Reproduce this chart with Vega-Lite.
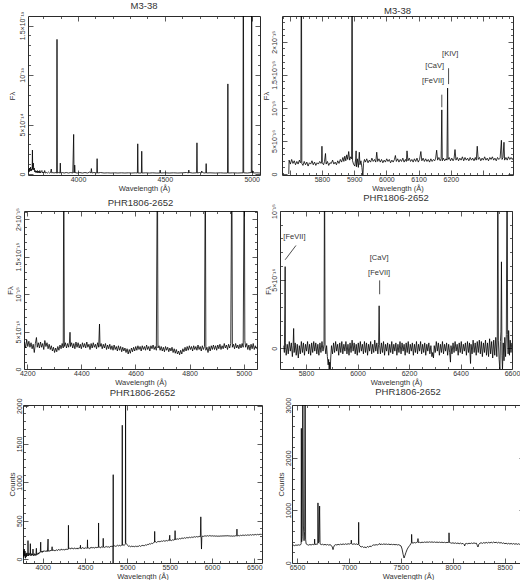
{
"$schema": "https://vega.github.io/schema/vega-lite/v6.json",
"padding": {"left": 0, "top": 0, "right": 0, "bottom": 0},
"config": {
  "font": "Liberation Sans",
  "view": {"stroke": "#2a2a2a", "strokeWidth": 1},
  "axis": {"domain": false, "grid": false, "tickSize": 0, "labelFontSize": 7, "titleFontSize": 7.5, "labelColor": "#333", "titleColor": "#333", "tickColor": "#333", "tickWidth": 0.8, "titleFontWeight": "normal", "labelFont": "Liberation Sans", "titleFont": "Liberation Sans", "labelOverlap": false, "labelFlush": false},
  "title": {"fontSize": 9.5, "fontWeight": "normal", "color": "#333", "offset": 0.5, "font": "Liberation Sans"},
  "text": {"font": "Liberation Sans", "fontSize": 7.5, "color": "#333"},
  "line": {"color": "#000", "strokeWidth": 0.8, "clip": true}
},
"datasets": {
"p1": [{"wl":3715,"flux":0.5},{"wl":3718,"flux":0.2},{"wl":3721,"flux":0.6},{"wl":3724,"flux":0.3},{"wl":3727,"flux":0.7},{"wl":3730,"flux":0.3},{"wl":3733,"flux":0.5},{"wl":3736,"flux":0.4},{"wl":3737.5,"flux":2.42},{"wl":3739,"flux":0.5},{"wl":3741,"flux":0.9},{"wl":3743,"flux":1.1},{"wl":3745,"flux":0.4},{"wl":3748,"flux":0.6},{"wl":3751,"flux":0.2},{"wl":3754,"flux":0.35},{"wl":3757,"flux":0.15},{"wl":3760,"flux":0.3},{"wl":3763,"flux":0.15},{"wl":3766,"flux":0.35},{"wl":3769,"flux":0.1},{"wl":3773,"flux":0.3},{"wl":3777,"flux":0.1},{"wl":3780,"flux":0.35},{"wl":3784,"flux":0.1},{"wl":3788,"flux":0.25},{"wl":3792,"flux":0.35},{"wl":3795,"flux":0.1},{"wl":3800,"flux":0.2},{"wl":3804,"flux":0.1},{"wl":3808,"flux":0.35},{"wl":3812,"flux":0.1},{"wl":3818,"flux":0.15},{"wl":3824,"flux":0.1},{"wl":3830,"flux":0.2},{"wl":3836,"flux":0.1},{"wl":3842,"flux":0.15},{"wl":3846,"flux":0.5},{"wl":3849,"flux":0.1},{"wl":3855,"flux":0.15},{"wl":3862,"flux":0.1},{"wl":3868,"flux":0.15},{"wl":3877,"flux":0.1},{"wl":3879,"flux":13.6},{"wl":3881,"flux":0.1},{"wl":3889,"flux":0.15},{"wl":3896,"flux":0.1},{"wl":3898,"flux":1.1},{"wl":3900,"flux":0.1},{"wl":3910,"flux":0.15},{"wl":3920,"flux":0.1},{"wl":3932,"flux":0.15},{"wl":3945,"flux":0.1},{"wl":3958,"flux":0.15},{"wl":3970,"flux":0.1},{"wl":3975,"flux":4.0},{"wl":3977,"flux":0.1},{"wl":3980,"flux":0.3},{"wl":3981,"flux":0.9},{"wl":3983,"flux":0.15},{"wl":3995,"flux":0.1},{"wl":4010,"flux":0.15},{"wl":4025,"flux":0.1},{"wl":4040,"flux":0.15},{"wl":4055,"flux":0.1},{"wl":4068,"flux":0.2},{"wl":4074,"flux":0.1},{"wl":4077,"flux":0.55},{"wl":4080,"flux":0.1},{"wl":4092,"flux":0.15},{"wl":4108,"flux":0.1},{"wl":4110,"flux":1.55},{"wl":4112,"flux":0.1},{"wl":4130,"flux":0.15},{"wl":4150,"flux":0.1},{"wl":4170,"flux":0.12},{"wl":4190,"flux":0.1},{"wl":4210,"flux":0.12},{"wl":4230,"flux":0.1},{"wl":4250,"flux":0.12},{"wl":4270,"flux":0.1},{"wl":4290,"flux":0.12},{"wl":4310,"flux":0.1},{"wl":4330,"flux":0.12},{"wl":4342,"flux":0.1},{"wl":4344,"flux":3.05},{"wl":4346,"flux":0.1},{"wl":4365,"flux":0.1},{"wl":4367,"flux":2.3},{"wl":4369,"flux":0.1},{"wl":4390,"flux":0.12},{"wl":4410,"flux":0.1},{"wl":4430,"flux":0.12},{"wl":4450,"flux":0.1},{"wl":4471,"flux":0.1},{"wl":4473,"flux":0.4},{"wl":4475,"flux":0.1},{"wl":4500,"flux":0.12},{"wl":4525,"flux":0.1},{"wl":4550,"flux":0.12},{"wl":4575,"flux":0.1},{"wl":4600,"flux":0.12},{"wl":4625,"flux":0.15},{"wl":4636,"flux":0.1},{"wl":4638,"flux":0.4},{"wl":4640,"flux":0.15},{"wl":4660,"flux":0.1},{"wl":4683,"flux":0.12},{"wl":4685,"flux":3.15},{"wl":4687,"flux":0.1},{"wl":4700,"flux":0.15},{"wl":4710,"flux":0.1},{"wl":4712,"flux":0.3},{"wl":4714,"flux":0.2},{"wl":4725,"flux":0.1},{"wl":4736,"flux":0.12},{"wl":4738,"flux":1.05},{"wl":4740,"flux":0.1},{"wl":4760,"flux":0.12},{"wl":4790,"flux":0.1},{"wl":4820,"flux":0.12},{"wl":4840,"flux":0.1},{"wl":4861,"flux":0.1},{"wl":4863,"flux":9.1},{"wl":4865,"flux":0.1},{"wl":4890,"flux":0.12},{"wl":4920,"flux":0.1},{"wl":4950,"flux":0.12},{"wl":4952,"flux":30},{"wl":4954,"flux":0.12},{"wl":4975,"flux":0.1},{"wl":4998,"flux":0.15},{"wl":5000,"flux":30},{"wl":5002,"flux":0.1},{"wl":5006,"flux":0.2},{"wl":5008,"flux":0.3},{"wl":5010,"flux":0.1},{"wl":5030,"flux":0.12},{"wl":5048,"flux":0.1}],
"p2": [{"wl":5697,"flux":0},{"wl":5698,"flux":2.1},{"wl":5702,"flux":1.5},{"wl":5706,"flux":2.2},{"wl":5710,"flux":1.6},{"wl":5714,"flux":2.0},{"wl":5718,"flux":1.4},{"wl":5722,"flux":1.9},{"wl":5726,"flux":1.5},{"wl":5730,"flux":2.1},{"wl":5733,"flux":1.7},{"wl":5734.5,"flux":1.8},{"wl":5736,"flux":40},{"wl":5737.5,"flux":1.6},{"wl":5741,"flux":1.3},{"wl":5745,"flux":1.9},{"wl":5749,"flux":1.4},{"wl":5753,"flux":1.8},{"wl":5757,"flux":1.2},{"wl":5761,"flux":1.7},{"wl":5765,"flux":1.5},{"wl":5769,"flux":2.0},{"wl":5773,"flux":1.4},{"wl":5777,"flux":1.8},{"wl":5781,"flux":1.3},{"wl":5785,"flux":1.7},{"wl":5789,"flux":1.5},{"wl":5793,"flux":1.9},{"wl":5797,"flux":1.6},{"wl":5799,"flux":1.8},{"wl":5800,"flux":4.2},{"wl":5801,"flux":1.7},{"wl":5805,"flux":1.4},{"wl":5808,"flux":1.9},{"wl":5811,"flux":3.1},{"wl":5813,"flux":1.5},{"wl":5817,"flux":1.9},{"wl":5821,"flux":1.3},{"wl":5825,"flux":1.7},{"wl":5829,"flux":1.6},{"wl":5833,"flux":2.1},{"wl":5837,"flux":1.5},{"wl":5841,"flux":1.8},{"wl":5845,"flux":1.4},{"wl":5849,"flux":2.0},{"wl":5853,"flux":1.6},{"wl":5857,"flux":2.2},{"wl":5861,"flux":1.8},{"wl":5865,"flux":2.5},{"wl":5868,"flux":1.9},{"wl":5871,"flux":2.7},{"wl":5874,"flux":2.0},{"wl":5877,"flux":2.9},{"wl":5880,"flux":2.2},{"wl":5883,"flux":3.4},{"wl":5886,"flux":2.1},{"wl":5889,"flux":2.6},{"wl":5892,"flux":2.3},{"wl":5893.5,"flux":40},{"wl":5895,"flux":2.0},{"wl":5898,"flux":1.5},{"wl":5902,"flux":1.2},{"wl":5905,"flux":2.4},{"wl":5906,"flux":3.5},{"wl":5907,"flux":1.1},{"wl":5910,"flux":2.3},{"wl":5913,"flux":1.0},{"wl":5916,"flux":3.3},{"wl":5918,"flux":1.4},{"wl":5921,"flux":2.0},{"wl":5924,"flux":1.0},{"wl":5927,"flux":-0.3},{"wl":5929,"flux":1.6},{"wl":5932,"flux":2.2},{"wl":5935,"flux":1.8},{"wl":5939,"flux":2.3},{"wl":5943,"flux":1.7},{"wl":5947,"flux":2.1},{"wl":5951,"flux":1.8},{"wl":5955,"flux":2.4},{"wl":5959,"flux":1.9},{"wl":5963,"flux":2.2},{"wl":5967,"flux":1.8},{"wl":5970,"flux":3.3},{"wl":5973,"flux":1.9},{"wl":5977,"flux":2.3},{"wl":5981,"flux":1.8},{"wl":5985,"flux":2.2},{"wl":5989,"flux":1.7},{"wl":5993,"flux":2.1},{"wl":5997,"flux":1.8},{"wl":6001,"flux":2.3},{"wl":6005,"flux":1.9},{"wl":6009,"flux":2.2},{"wl":6013,"flux":1.7},{"wl":6017,"flux":2.1},{"wl":6021,"flux":1.8},{"wl":6025,"flux":2.2},{"wl":6028,"flux":2.8},{"wl":6031,"flux":1.9},{"wl":6035,"flux":2.3},{"wl":6039,"flux":1.8},{"wl":6043,"flux":2.2},{"wl":6047,"flux":1.9},{"wl":6051,"flux":2.4},{"wl":6055,"flux":1.8},{"wl":6059,"flux":2.2},{"wl":6062,"flux":1.9},{"wl":6064,"flux":3.5},{"wl":6067,"flux":2.0},{"wl":6071,"flux":2.4},{"wl":6075,"flux":1.9},{"wl":6079,"flux":2.2},{"wl":6083,"flux":1.8},{"wl":6087,"flux":2.3},{"wl":6091,"flux":1.9},{"wl":6095,"flux":2.4},{"wl":6099,"flux":1.8},{"wl":6103,"flux":2.2},{"wl":6107,"flux":3.4},{"wl":6110,"flux":2.0},{"wl":6114,"flux":2.4},{"wl":6118,"flux":1.9},{"wl":6122,"flux":2.3},{"wl":6126,"flux":1.9},{"wl":6130,"flux":2.2},{"wl":6134,"flux":1.8},{"wl":6138,"flux":2.3},{"wl":6142,"flux":1.9},{"wl":6146,"flux":2.2},{"wl":6150,"flux":2.0},{"wl":6153,"flux":2.4},{"wl":6156,"flux":3.6},{"wl":6159,"flux":2.1},{"wl":6163,"flux":2.5},{"wl":6167,"flux":2.0},{"wl":6170,"flux":2.3},{"wl":6172,"flux":9.7},{"wl":6173.5,"flux":2.0},{"wl":6177,"flux":2.4},{"wl":6181,"flux":2.0},{"wl":6185,"flux":2.3},{"wl":6188,"flux":2.1},{"wl":6190,"flux":13.0},{"wl":6191.5,"flux":2.2},{"wl":6195,"flux":2.5},{"wl":6199,"flux":2.0},{"wl":6203,"flux":2.4},{"wl":6207,"flux":2.0},{"wl":6210,"flux":2.3},{"wl":6213,"flux":3.7},{"wl":6216,"flux":2.1},{"wl":6220,"flux":2.5},{"wl":6224,"flux":2.0},{"wl":6228,"flux":2.4},{"wl":6232,"flux":2.1},{"wl":6236,"flux":2.6},{"wl":6240,"flux":2.0},{"wl":6244,"flux":2.5},{"wl":6248,"flux":2.1},{"wl":6252,"flux":2.4},{"wl":6256,"flux":2.0},{"wl":6260,"flux":2.5},{"wl":6264,"flux":2.1},{"wl":6268,"flux":2.4},{"wl":6272,"flux":2.0},{"wl":6276,"flux":2.5},{"wl":6279,"flux":2.1},{"wl":6282,"flux":4.2},{"wl":6285,"flux":2.2},{"wl":6289,"flux":2.5},{"wl":6293,"flux":2.0},{"wl":6297,"flux":2.4},{"wl":6301,"flux":2.1},{"wl":6305,"flux":2.6},{"wl":6309,"flux":2.1},{"wl":6313,"flux":2.4},{"wl":6317,"flux":2.0},{"wl":6321,"flux":2.5},{"wl":6325,"flux":2.2},{"wl":6329,"flux":2.6},{"wl":6333,"flux":2.1},{"wl":6337,"flux":2.4},{"wl":6341,"flux":2.0},{"wl":6345,"flux":2.5},{"wl":6349,"flux":2.2},{"wl":6353,"flux":2.4},{"wl":6357,"flux":5.1},{"wl":6359,"flux":2.2},{"wl":6362,"flux":2.5},{"wl":6365,"flux":4.8},{"wl":6367,"flux":2.1},{"wl":6371,"flux":2.5},{"wl":6375,"flux":2.1},{"wl":6379,"flux":2.6},{"wl":6383,"flux":2.2},{"wl":6387,"flux":2.5},{"wl":6391,"flux":2.2},{"wl":6393,"flux":2.4}],
"p3": [{"wl":4190,"flux":3.6},{"wl":4194,"flux":2.8},{"wl":4198,"flux":3.9},{"wl":4202,"flux":3.0},{"wl":4206,"flux":3.7},{"wl":4210,"flux":2.9},{"wl":4214,"flux":3.5},{"wl":4218,"flux":2.7},{"wl":4222,"flux":3.3},{"wl":4226,"flux":2.2},{"wl":4230,"flux":3.4},{"wl":4234,"flux":4.2},{"wl":4237,"flux":2.9},{"wl":4241,"flux":3.5},{"wl":4245,"flux":2.8},{"wl":4249,"flux":3.6},{"wl":4253,"flux":2.9},{"wl":4257,"flux":3.4},{"wl":4261,"flux":2.6},{"wl":4265,"flux":3.8},{"wl":4269,"flux":3.0},{"wl":4273,"flux":3.5},{"wl":4277,"flux":2.7},{"wl":4281,"flux":3.3},{"wl":4285,"flux":2.6},{"wl":4289,"flux":3.1},{"wl":4293,"flux":2.4},{"wl":4297,"flux":2.9},{"wl":4301,"flux":2.2},{"wl":4305,"flux":2.8},{"wl":4309,"flux":2.3},{"wl":4313,"flux":3.0},{"wl":4317,"flux":2.5},{"wl":4321,"flux":3.2},{"wl":4325,"flux":2.7},{"wl":4329,"flux":3.4},{"wl":4333,"flux":2.8},{"wl":4335,"flux":30},{"wl":4337,"flux":3.0},{"wl":4341,"flux":3.5},{"wl":4345,"flux":2.8},{"wl":4349,"flux":3.4},{"wl":4353,"flux":2.9},{"wl":4356,"flux":3.6},{"wl":4358,"flux":4.9},{"wl":4360,"flux":3.0},{"wl":4364,"flux":3.5},{"wl":4368,"flux":2.8},{"wl":4372,"flux":3.4},{"wl":4376,"flux":2.7},{"wl":4380,"flux":3.6},{"wl":4384,"flux":2.9},{"wl":4388,"flux":3.5},{"wl":4392,"flux":2.8},{"wl":4396,"flux":3.3},{"wl":4400,"flux":2.7},{"wl":4404,"flux":3.5},{"wl":4408,"flux":2.9},{"wl":4412,"flux":3.4},{"wl":4416,"flux":2.8},{"wl":4420,"flux":3.6},{"wl":4424,"flux":2.9},{"wl":4428,"flux":3.3},{"wl":4432,"flux":2.6},{"wl":4436,"flux":3.4},{"wl":4440,"flux":2.8},{"wl":4444,"flux":3.5},{"wl":4448,"flux":2.9},{"wl":4452,"flux":3.3},{"wl":4456,"flux":2.7},{"wl":4460,"flux":3.5},{"wl":4464,"flux":2.9},{"wl":4467,"flux":6.0},{"wl":4469,"flux":3.0},{"wl":4473,"flux":3.4},{"wl":4477,"flux":2.7},{"wl":4481,"flux":3.3},{"wl":4485,"flux":2.8},{"wl":4489,"flux":3.4},{"wl":4493,"flux":2.6},{"wl":4497,"flux":3.2},{"wl":4501,"flux":2.7},{"wl":4505,"flux":3.3},{"wl":4509,"flux":2.6},{"wl":4513,"flux":3.1},{"wl":4517,"flux":2.5},{"wl":4521,"flux":3.2},{"wl":4525,"flux":2.6},{"wl":4529,"flux":3.0},{"wl":4533,"flux":2.4},{"wl":4537,"flux":3.1},{"wl":4541,"flux":2.5},{"wl":4545,"flux":3.0},{"wl":4549,"flux":2.3},{"wl":4553,"flux":2.9},{"wl":4557,"flux":2.4},{"wl":4561,"flux":2.8},{"wl":4565,"flux":2.2},{"wl":4569,"flux":2.7},{"wl":4573,"flux":2.0},{"wl":4577,"flux":2.6},{"wl":4581,"flux":2.1},{"wl":4585,"flux":2.8},{"wl":4589,"flux":2.3},{"wl":4593,"flux":2.9},{"wl":4597,"flux":2.4},{"wl":4601,"flux":3.0},{"wl":4605,"flux":2.5},{"wl":4609,"flux":3.1},{"wl":4613,"flux":2.6},{"wl":4617,"flux":3.0},{"wl":4621,"flux":2.4},{"wl":4625,"flux":3.1},{"wl":4629,"flux":2.6},{"wl":4633,"flux":3.0},{"wl":4637,"flux":2.5},{"wl":4641,"flux":3.2},{"wl":4645,"flux":2.6},{"wl":4649,"flux":3.0},{"wl":4653,"flux":2.4},{"wl":4657,"flux":3.1},{"wl":4661,"flux":2.7},{"wl":4665,"flux":3.2},{"wl":4669,"flux":2.6},{"wl":4673,"flux":3.0},{"wl":4677,"flux":2.5},{"wl":4681,"flux":30},{"wl":4683,"flux":2.8},{"wl":4687,"flux":3.1},{"wl":4691,"flux":2.5},{"wl":4695,"flux":3.0},{"wl":4699,"flux":2.4},{"wl":4703,"flux":2.9},{"wl":4707,"flux":2.3},{"wl":4711,"flux":3.0},{"wl":4715,"flux":2.5},{"wl":4719,"flux":2.9},{"wl":4723,"flux":2.3},{"wl":4727,"flux":2.8},{"wl":4731,"flux":2.4},{"wl":4735,"flux":2.9},{"wl":4739,"flux":2.2},{"wl":4743,"flux":2.7},{"wl":4747,"flux":2.1},{"wl":4751,"flux":2.6},{"wl":4755,"flux":2.0},{"wl":4759,"flux":2.4},{"wl":4763,"flux":1.9},{"wl":4767,"flux":2.5},{"wl":4771,"flux":2.0},{"wl":4775,"flux":2.7},{"wl":4779,"flux":2.3},{"wl":4783,"flux":2.9},{"wl":4787,"flux":2.4},{"wl":4791,"flux":3.0},{"wl":4795,"flux":2.5},{"wl":4799,"flux":3.1},{"wl":4803,"flux":2.6},{"wl":4807,"flux":3.0},{"wl":4811,"flux":2.4},{"wl":4815,"flux":3.1},{"wl":4819,"flux":2.6},{"wl":4823,"flux":3.0},{"wl":4827,"flux":2.5},{"wl":4831,"flux":3.2},{"wl":4835,"flux":2.6},{"wl":4839,"flux":3.0},{"wl":4843,"flux":2.4},{"wl":4847,"flux":3.1},{"wl":4851,"flux":2.6},{"wl":4855,"flux":3.0},{"wl":4858,"flux":30},{"wl":4860,"flux":2.5},{"wl":4864,"flux":2.9},{"wl":4868,"flux":2.2},{"wl":4872,"flux":3.0},{"wl":4876,"flux":2.4},{"wl":4880,"flux":3.1},{"wl":4884,"flux":2.6},{"wl":4888,"flux":3.2},{"wl":4892,"flux":2.6},{"wl":4896,"flux":3.1},{"wl":4900,"flux":2.5},{"wl":4904,"flux":3.2},{"wl":4908,"flux":2.7},{"wl":4912,"flux":3.3},{"wl":4916,"flux":2.6},{"wl":4920,"flux":3.1},{"wl":4924,"flux":2.7},{"wl":4928,"flux":3.4},{"wl":4932,"flux":2.8},{"wl":4936,"flux":3.2},{"wl":4940,"flux":2.6},{"wl":4944,"flux":3.3},{"wl":4948,"flux":2.8},{"wl":4952,"flux":3.4},{"wl":4956,"flux":30},{"wl":4958,"flux":2.9},{"wl":4962,"flux":3.3},{"wl":4966,"flux":2.7},{"wl":4970,"flux":3.4},{"wl":4974,"flux":2.8},{"wl":4978,"flux":3.2},{"wl":4982,"flux":2.7},{"wl":4986,"flux":3.3},{"wl":4990,"flux":2.8},{"wl":4994,"flux":3.4},{"wl":4998,"flux":2.9},{"wl":5002,"flux":30},{"wl":5004,"flux":3.8},{"wl":5007,"flux":2.9},{"wl":5011,"flux":3.4},{"wl":5015,"flux":2.6},{"wl":5019,"flux":3.2},{"wl":5023,"flux":2.5},{"wl":5027,"flux":3.3},{"wl":5031,"flux":2.7},{"wl":5035,"flux":3.4},{"wl":5039,"flux":2.6},{"wl":5043,"flux":3.1},{"wl":5047,"flux":2.7}],
"p4": [{"wl":5714,"flux":0.2},{"wl":5716,"flux":-0.3},{"wl":5718,"flux":3.1},{"wl":5719,"flux":5.95},{"wl":5720,"flux":0.4},{"wl":5723,"flux":-0.5},{"wl":5727,"flux":0.3},{"wl":5731,"flux":-0.4},{"wl":5735,"flux":0.5},{"wl":5739,"flux":-0.2},{"wl":5743,"flux":0.4},{"wl":5747,"flux":-0.6},{"wl":5750,"flux":0.2},{"wl":5752,"flux":1.45},{"wl":5754,"flux":-0.3},{"wl":5758,"flux":0.4},{"wl":5762,"flux":-0.5},{"wl":5766,"flux":0.3},{"wl":5770,"flux":-0.7},{"wl":5774,"flux":0.2},{"wl":5778,"flux":-0.4},{"wl":5782,"flux":0.5},{"wl":5786,"flux":-0.3},{"wl":5790,"flux":0.4},{"wl":5794,"flux":-0.5},{"wl":5798,"flux":0.3},{"wl":5802,"flux":-0.2},{"wl":5806,"flux":0.5},{"wl":5810,"flux":-0.4},{"wl":5814,"flux":0.3},{"wl":5818,"flux":-0.5},{"wl":5822,"flux":0.4},{"wl":5826,"flux":-0.3},{"wl":5830,"flux":0.5},{"wl":5834,"flux":-0.2},{"wl":5838,"flux":0.4},{"wl":5842,"flux":-0.4},{"wl":5846,"flux":0.3},{"wl":5850,"flux":-0.5},{"wl":5854,"flux":0.4},{"wl":5858,"flux":-0.3},{"wl":5862,"flux":0.5},{"wl":5866,"flux":-0.2},{"wl":5870,"flux":0.3},{"wl":5872,"flux":15},{"wl":5874,"flux":0.1},{"wl":5877,"flux":-0.4},{"wl":5880,"flux":0.2},{"wl":5883,"flux":-0.6},{"wl":5886,"flux":-1.2},{"wl":5888,"flux":-0.8},{"wl":5890,"flux":-1.6},{"wl":5892,"flux":-1.0},{"wl":5894,"flux":-1.6},{"wl":5896,"flux":-0.7},{"wl":5899,"flux":0.2},{"wl":5903,"flux":-0.4},{"wl":5907,"flux":0.4},{"wl":5911,"flux":-0.3},{"wl":5915,"flux":0.5},{"wl":5919,"flux":-0.2},{"wl":5923,"flux":0.3},{"wl":5927,"flux":-0.5},{"wl":5931,"flux":0.4},{"wl":5935,"flux":-0.3},{"wl":5939,"flux":0.5},{"wl":5943,"flux":-0.4},{"wl":5947,"flux":0.3},{"wl":5951,"flux":-0.2},{"wl":5955,"flux":0.5},{"wl":5959,"flux":-0.4},{"wl":5963,"flux":0.3},{"wl":5967,"flux":-0.5},{"wl":5971,"flux":0.4},{"wl":5975,"flux":-0.3},{"wl":5979,"flux":0.6},{"wl":5983,"flux":-0.2},{"wl":5987,"flux":0.4},{"wl":5991,"flux":-0.4},{"wl":5995,"flux":0.3},{"wl":5999,"flux":-0.5},{"wl":6003,"flux":0.4},{"wl":6007,"flux":-0.3},{"wl":6011,"flux":0.5},{"wl":6015,"flux":-0.2},{"wl":6019,"flux":0.3},{"wl":6023,"flux":-0.4},{"wl":6027,"flux":0.5},{"wl":6031,"flux":-0.3},{"wl":6035,"flux":0.4},{"wl":6039,"flux":-0.5},{"wl":6043,"flux":0.3},{"wl":6047,"flux":-0.2},{"wl":6051,"flux":0.5},{"wl":6055,"flux":-0.4},{"wl":6059,"flux":0.3},{"wl":6063,"flux":-0.3},{"wl":6067,"flux":0.6},{"wl":6071,"flux":-0.2},{"wl":6075,"flux":0.4},{"wl":6079,"flux":-0.4},{"wl":6082,"flux":0.3},{"wl":6084,"flux":3.1},{"wl":6086,"flux":0.2},{"wl":6089,"flux":-0.4},{"wl":6093,"flux":0.4},{"wl":6097,"flux":-0.3},{"wl":6101,"flux":0.5},{"wl":6105,"flux":-0.5},{"wl":6109,"flux":0.3},{"wl":6113,"flux":-0.2},{"wl":6117,"flux":0.4},{"wl":6121,"flux":-0.5},{"wl":6125,"flux":0.3},{"wl":6129,"flux":-0.3},{"wl":6133,"flux":0.5},{"wl":6137,"flux":-0.4},{"wl":6141,"flux":0.3},{"wl":6145,"flux":-0.2},{"wl":6149,"flux":0.4},{"wl":6153,"flux":-0.5},{"wl":6157,"flux":0.3},{"wl":6161,"flux":-0.3},{"wl":6165,"flux":0.5},{"wl":6169,"flux":-0.4},{"wl":6173,"flux":0.4},{"wl":6177,"flux":-0.2},{"wl":6181,"flux":0.3},{"wl":6185,"flux":-0.5},{"wl":6189,"flux":0.4},{"wl":6193,"flux":-0.3},{"wl":6197,"flux":0.5},{"wl":6201,"flux":-0.4},{"wl":6205,"flux":0.3},{"wl":6209,"flux":-0.2},{"wl":6213,"flux":0.4},{"wl":6217,"flux":-0.5},{"wl":6221,"flux":0.3},{"wl":6225,"flux":-0.3},{"wl":6229,"flux":0.5},{"wl":6233,"flux":-0.4},{"wl":6237,"flux":0.3},{"wl":6241,"flux":-0.2},{"wl":6245,"flux":0.5},{"wl":6249,"flux":-0.4},{"wl":6253,"flux":0.3},{"wl":6257,"flux":-0.3},{"wl":6261,"flux":0.4},{"wl":6265,"flux":-0.5},{"wl":6269,"flux":0.3},{"wl":6273,"flux":-0.2},{"wl":6277,"flux":0.4},{"wl":6281,"flux":-0.4},{"wl":6285,"flux":0.2},{"wl":6289,"flux":-0.6},{"wl":6292,"flux":-0.3},{"wl":6295,"flux":-0.7},{"wl":6298,"flux":0.2},{"wl":6302,"flux":-0.3},{"wl":6306,"flux":0.5},{"wl":6310,"flux":-0.2},{"wl":6314,"flux":0.4},{"wl":6318,"flux":-0.5},{"wl":6322,"flux":0.3},{"wl":6326,"flux":-0.3},{"wl":6330,"flux":0.5},{"wl":6334,"flux":-0.4},{"wl":6338,"flux":0.3},{"wl":6342,"flux":-0.2},{"wl":6346,"flux":0.4},{"wl":6350,"flux":-0.5},{"wl":6354,"flux":0.3},{"wl":6358,"flux":-0.3},{"wl":6361,"flux":-1.0},{"wl":6363,"flux":0.2},{"wl":6367,"flux":-0.4},{"wl":6371,"flux":0.4},{"wl":6375,"flux":-0.3},{"wl":6379,"flux":0.5},{"wl":6383,"flux":-0.2},{"wl":6387,"flux":0.3},{"wl":6391,"flux":-0.5},{"wl":6395,"flux":0.4},{"wl":6399,"flux":-0.3},{"wl":6403,"flux":0.5},{"wl":6407,"flux":-0.4},{"wl":6411,"flux":0.3},{"wl":6415,"flux":-0.2},{"wl":6419,"flux":0.4},{"wl":6423,"flux":-0.5},{"wl":6427,"flux":0.5},{"wl":6431,"flux":-0.3},{"wl":6435,"flux":0.4},{"wl":6439,"flux":-1.1},{"wl":6441,"flux":0.3},{"wl":6445,"flux":-0.4},{"wl":6449,"flux":0.6},{"wl":6453,"flux":-0.3},{"wl":6457,"flux":0.4},{"wl":6461,"flux":-0.5},{"wl":6465,"flux":0.5},{"wl":6469,"flux":-0.3},{"wl":6473,"flux":0.6},{"wl":6477,"flux":-0.4},{"wl":6481,"flux":0.5},{"wl":6485,"flux":-0.6},{"wl":6489,"flux":0.4},{"wl":6493,"flux":-0.3},{"wl":6497,"flux":0.6},{"wl":6501,"flux":-0.5},{"wl":6505,"flux":0.4},{"wl":6509,"flux":-0.6},{"wl":6513,"flux":0.7},{"wl":6517,"flux":-0.4},{"wl":6521,"flux":0.5},{"wl":6525,"flux":-0.7},{"wl":6529,"flux":0.6},{"wl":6533,"flux":-0.5},{"wl":6537,"flux":0.8},{"wl":6541,"flux":-0.6},{"wl":6543,"flux":0.9},{"wl":6545,"flux":15},{"wl":6547,"flux":0.6},{"wl":6550,"flux":-0.8},{"wl":6553,"flux":-1.6},{"wl":6555,"flux":0.5},{"wl":6557,"flux":1.2},{"wl":6559,"flux":6.3},{"wl":6561,"flux":-0.5},{"wl":6563,"flux":-1.6},{"wl":6566,"flux":0.4},{"wl":6569,"flux":-0.9},{"wl":6572,"flux":0.8},{"wl":6575,"flux":-0.6},{"wl":6578,"flux":1.0},{"wl":6581,"flux":15},{"wl":6583,"flux":1.0},{"wl":6585,"flux":-0.4},{"wl":6587,"flux":1.3},{"wl":6590,"flux":-0.5},{"wl":6593,"flux":0.6},{"wl":6596,"flux":-0.3},{"wl":6599,"flux":0.4}],
"p5": [{"wl":3767,"counts":30},{"wl":3772,"counts":110},{"wl":3777,"counts":20},{"wl":3782,"counts":130},{"wl":3787,"counts":40},{"wl":3792,"counts":90},{"wl":3797,"counts":10},{"wl":3802,"counts":70},{"wl":3807,"counts":30},{"wl":3812,"counts":80},{"wl":3817,"counts":40},{"wl":3822,"counts":60},{"wl":3825,"counts":90},{"wl":3826,"counts":240},{"wl":3828,"counts":70},{"wl":3833,"counts":40},{"wl":3838,"counts":80},{"wl":3843,"counts":50},{"wl":3848,"counts":60},{"wl":3852,"counts":70},{"wl":3854,"counts":200},{"wl":3856,"counts":60},{"wl":3861,"counts":40},{"wl":3866,"counts":70},{"wl":3871,"counts":50},{"wl":3876,"counts":60},{"wl":3880,"counts":50},{"wl":3885,"counts":130},{"wl":3889,"counts":55},{"wl":3895,"counts":40},{"wl":3901,"counts":70},{"wl":3907,"counts":50},{"wl":3913,"counts":60},{"wl":3919,"counts":45},{"wl":3925,"counts":140},{"wl":3929,"counts":55},{"wl":3935,"counts":70},{"wl":3941,"counts":60},{"wl":3947,"counts":80},{"wl":3953,"counts":65},{"wl":3959,"counts":85},{"wl":3965,"counts":80},{"wl":3972,"counts":95},{"wl":3976,"counts":220},{"wl":3979,"counts":90},{"wl":3986,"counts":100},{"wl":3993,"counts":85},{"wl":4000,"counts":105},{"wl":4008,"counts":95},{"wl":4016,"counts":110},{"wl":4024,"counts":100},{"wl":4032,"counts":105},{"wl":4040,"counts":95},{"wl":4048,"counts":110},{"wl":4056,"counts":100},{"wl":4063,"counts":260},{"wl":4066,"counts":100},{"wl":4074,"counts":110},{"wl":4082,"counts":100},{"wl":4090,"counts":115},{"wl":4098,"counts":105},{"wl":4106,"counts":115},{"wl":4111,"counts":160},{"wl":4115,"counts":110},{"wl":4125,"counts":120},{"wl":4135,"counts":105},{"wl":4145,"counts":115},{"wl":4155,"counts":110},{"wl":4165,"counts":120},{"wl":4175,"counts":110},{"wl":4185,"counts":125},{"wl":4195,"counts":115},{"wl":4205,"counts":125},{"wl":4215,"counts":115},{"wl":4225,"counts":130},{"wl":4235,"counts":120},{"wl":4245,"counts":125},{"wl":4255,"counts":115},{"wl":4265,"counts":130},{"wl":4275,"counts":120},{"wl":4285,"counts":130},{"wl":4295,"counts":125},{"wl":4302,"counts":135},{"wl":4304,"counts":440},{"wl":4306,"counts":130},{"wl":4316,"counts":140},{"wl":4326,"counts":130},{"wl":4336,"counts":145},{"wl":4346,"counts":135},{"wl":4356,"counts":140},{"wl":4366,"counts":130},{"wl":4376,"counts":145},{"wl":4386,"counts":135},{"wl":4396,"counts":140},{"wl":4406,"counts":130},{"wl":4416,"counts":145},{"wl":4426,"counts":135},{"wl":4436,"counts":145},{"wl":4444,"counts":140},{"wl":4446,"counts":180},{"wl":4448,"counts":140},{"wl":4458,"counts":135},{"wl":4468,"counts":150},{"wl":4478,"counts":140},{"wl":4488,"counts":145},{"wl":4498,"counts":135},{"wl":4508,"counts":150},{"wl":4518,"counts":140},{"wl":4527,"counts":150},{"wl":4529,"counts":250},{"wl":4531,"counts":140},{"wl":4541,"counts":145},{"wl":4551,"counts":135},{"wl":4561,"counts":150},{"wl":4571,"counts":140},{"wl":4581,"counts":155},{"wl":4591,"counts":145},{"wl":4601,"counts":150},{"wl":4611,"counts":140},{"wl":4621,"counts":155},{"wl":4631,"counts":145},{"wl":4641,"counts":155},{"wl":4651,"counts":150},{"wl":4658,"counts":160},{"wl":4660,"counts":470},{"wl":4662,"counts":150},{"wl":4672,"counts":155},{"wl":4682,"counts":145},{"wl":4692,"counts":160},{"wl":4702,"counts":150},{"wl":4712,"counts":160},{"wl":4715,"counts":270},{"wl":4718,"counts":155},{"wl":4728,"counts":150},{"wl":4738,"counts":160},{"wl":4748,"counts":155},{"wl":4758,"counts":165},{"wl":4768,"counts":155},{"wl":4778,"counts":160},{"wl":4788,"counts":150},{"wl":4798,"counts":165},{"wl":4808,"counts":160},{"wl":4818,"counts":170},{"wl":4826,"counts":165},{"wl":4831,"counts":170},{"wl":4832,"counts":-60},{"wl":4833,"counts":1100},{"wl":4834,"counts":170},{"wl":4842,"counts":165},{"wl":4852,"counts":175},{"wl":4862,"counts":165},{"wl":4872,"counts":170},{"wl":4882,"counts":180},{"wl":4892,"counts":170},{"wl":4902,"counts":175},{"wl":4912,"counts":180},{"wl":4922,"counts":170},{"wl":4932,"counts":180},{"wl":4938,"counts":185},{"wl":4940,"counts":1745},{"wl":4942,"counts":180},{"wl":4952,"counts":185},{"wl":4962,"counts":175},{"wl":4972,"counts":190},{"wl":4977,"counts":200},{"wl":4979,"counts":2400},{"wl":4981,"counts":210},{"wl":4988,"counts":200},{"wl":4995,"counts":190},{"wl":5005,"counts":175},{"wl":5015,"counts":165},{"wl":5025,"counts":170},{"wl":5035,"counts":160},{"wl":5045,"counts":165},{"wl":5055,"counts":170},{"wl":5065,"counts":160},{"wl":5075,"counts":165},{"wl":5085,"counts":158},{"wl":5095,"counts":170},{"wl":5105,"counts":162},{"wl":5115,"counts":170},{"wl":5125,"counts":160},{"wl":5135,"counts":168},{"wl":5145,"counts":175},{"wl":5155,"counts":165},{"wl":5165,"counts":172},{"wl":5175,"counts":180},{"wl":5185,"counts":170},{"wl":5195,"counts":178},{"wl":5205,"counts":175},{"wl":5215,"counts":185},{"wl":5225,"counts":180},{"wl":5235,"counts":190},{"wl":5245,"counts":185},{"wl":5255,"counts":195},{"wl":5265,"counts":200},{"wl":5275,"counts":195},{"wl":5285,"counts":205},{"wl":5295,"counts":200},{"wl":5305,"counts":210},{"wl":5315,"counts":215},{"wl":5321,"counts":220},{"wl":5323,"counts":360},{"wl":5325,"counts":222},{"wl":5335,"counts":225},{"wl":5345,"counts":215},{"wl":5355,"counts":225},{"wl":5365,"counts":230},{"wl":5375,"counts":222},{"wl":5385,"counts":232},{"wl":5395,"counts":228},{"wl":5405,"counts":235},{"wl":5415,"counts":230},{"wl":5425,"counts":240},{"wl":5435,"counts":232},{"wl":5445,"counts":238},{"wl":5455,"counts":235},{"wl":5465,"counts":242},{"wl":5475,"counts":236},{"wl":5485,"counts":245},{"wl":5495,"counts":240},{"wl":5501,"counts":310},{"wl":5503,"counts":242},{"wl":5513,"counts":248},{"wl":5523,"counts":240},{"wl":5533,"counts":250},{"wl":5543,"counts":245},{"wl":5553,"counts":255},{"wl":5562,"counts":250},{"wl":5564,"counts":370},{"wl":5566,"counts":255},{"wl":5576,"counts":262},{"wl":5586,"counts":255},{"wl":5596,"counts":265},{"wl":5606,"counts":258},{"wl":5616,"counts":268},{"wl":5626,"counts":262},{"wl":5636,"counts":272},{"wl":5646,"counts":266},{"wl":5656,"counts":275},{"wl":5666,"counts":268},{"wl":5676,"counts":278},{"wl":5686,"counts":270},{"wl":5696,"counts":280},{"wl":5706,"counts":274},{"wl":5716,"counts":282},{"wl":5726,"counts":276},{"wl":5736,"counts":285},{"wl":5746,"counts":278},{"wl":5756,"counts":286},{"wl":5766,"counts":280},{"wl":5776,"counts":290},{"wl":5786,"counts":283},{"wl":5796,"counts":292},{"wl":5806,"counts":285},{"wl":5816,"counts":293},{"wl":5826,"counts":287},{"wl":5836,"counts":294},{"wl":5846,"counts":288},{"wl":5856,"counts":296},{"wl":5863,"counts":290},{"wl":5868,"counts":550},{"wl":5872,"counts":290},{"wl":5876,"counts":130},{"wl":5880,"counts":280},{"wl":5888,"counts":300},{"wl":5898,"counts":295},{"wl":5908,"counts":302},{"wl":5918,"counts":296},{"wl":5928,"counts":304},{"wl":5938,"counts":298},{"wl":5948,"counts":305},{"wl":5958,"counts":298},{"wl":5968,"counts":306},{"wl":5978,"counts":300},{"wl":5988,"counts":305},{"wl":5998,"counts":298},{"wl":6010,"counts":304},{"wl":6022,"counts":297},{"wl":6034,"counts":303},{"wl":6046,"counts":296},{"wl":6058,"counts":302},{"wl":6070,"counts":295},{"wl":6082,"counts":301},{"wl":6094,"counts":296},{"wl":6106,"counts":303},{"wl":6118,"counts":297},{"wl":6130,"counts":304},{"wl":6142,"counts":298},{"wl":6154,"counts":305},{"wl":6166,"counts":299},{"wl":6178,"counts":306},{"wl":6190,"counts":300},{"wl":6202,"counts":304},{"wl":6214,"counts":297},{"wl":6226,"counts":303},{"wl":6238,"counts":296},{"wl":6250,"counts":302},{"wl":6262,"counts":297},{"wl":6274,"counts":304},{"wl":6286,"counts":300},{"wl":6293,"counts":306},{"wl":6295,"counts":390},{"wl":6297,"counts":305},{"wl":6307,"counts":300},{"wl":6317,"counts":308},{"wl":6327,"counts":302},{"wl":6337,"counts":310},{"wl":6347,"counts":305},{"wl":6357,"counts":312},{"wl":6367,"counts":306},{"wl":6377,"counts":313},{"wl":6387,"counts":307},{"wl":6397,"counts":314},{"wl":6407,"counts":308},{"wl":6417,"counts":315},{"wl":6427,"counts":309},{"wl":6437,"counts":316},{"wl":6447,"counts":310},{"wl":6457,"counts":318},{"wl":6467,"counts":311},{"wl":6477,"counts":319},{"wl":6487,"counts":312},{"wl":6497,"counts":320},{"wl":6507,"counts":314},{"wl":6517,"counts":321},{"wl":6527,"counts":315},{"wl":6537,"counts":322},{"wl":6547,"counts":316},{"wl":6557,"counts":323},{"wl":6567,"counts":318},{"wl":6577,"counts":324},{"wl":6588,"counts":320}],
"p6": [{"wl":6458,"counts":320},{"wl":6468,"counts":335},{"wl":6478,"counts":325},{"wl":6490,"counts":340},{"wl":6500,"counts":330},{"wl":6512,"counts":342},{"wl":6524,"counts":335},{"wl":6536,"counts":345},{"wl":6540,"counts":360},{"wl":6542,"counts":2560},{"wl":6545,"counts":400},{"wl":6550,"counts":500},{"wl":6556,"counts":3600},{"wl":6562,"counts":700},{"wl":6568,"counts":420},{"wl":6574,"counts":600},{"wl":6578,"counts":3600},{"wl":6583,"counts":450},{"wl":6588,"counts":360},{"wl":6600,"counts":345},{"wl":6612,"counts":335},{"wl":6624,"counts":348},{"wl":6636,"counts":338},{"wl":6648,"counts":350},{"wl":6660,"counts":342},{"wl":6668,"counts":360},{"wl":6670,"counts":450},{"wl":6672,"counts":345},{"wl":6684,"counts":355},{"wl":6696,"counts":350},{"wl":6700,"counts":370},{"wl":6702,"counts":1140},{"wl":6706,"counts":380},{"wl":6712,"counts":400},{"wl":6718,"counts":1080},{"wl":6722,"counts":360},{"wl":6734,"counts":345},{"wl":6746,"counts":352},{"wl":6758,"counts":340},{"wl":6770,"counts":350},{"wl":6782,"counts":338},{"wl":6794,"counts":348},{"wl":6806,"counts":335},{"wl":6818,"counts":345},{"wl":6830,"counts":330},{"wl":6840,"counts":300},{"wl":6847,"counts":250},{"wl":6852,"counts":290},{"wl":6860,"counts":330},{"wl":6872,"counts":345},{"wl":6884,"counts":338},{"wl":6896,"counts":350},{"wl":6908,"counts":342},{"wl":6920,"counts":355},{"wl":6932,"counts":346},{"wl":6944,"counts":358},{"wl":6956,"counts":348},{"wl":6968,"counts":360},{"wl":6980,"counts":350},{"wl":6992,"counts":362},{"wl":7004,"counts":355},{"wl":7016,"counts":365},{"wl":7021,"counts":380},{"wl":7023,"counts":430},{"wl":7026,"counts":360},{"wl":7038,"counts":350},{"wl":7050,"counts":362},{"wl":7062,"counts":350},{"wl":7074,"counts":358},{"wl":7086,"counts":345},{"wl":7092,"counts":360},{"wl":7094,"counts":770},{"wl":7096,"counts":340},{"wl":7106,"counts":320},{"wl":7118,"counts":300},{"wl":7130,"counts":310},{"wl":7142,"counts":290},{"wl":7154,"counts":300},{"wl":7166,"counts":285},{"wl":7178,"counts":310},{"wl":7190,"counts":295},{"wl":7202,"counts":320},{"wl":7214,"counts":305},{"wl":7226,"counts":330},{"wl":7238,"counts":340},{"wl":7250,"counts":335},{"wl":7262,"counts":345},{"wl":7274,"counts":338},{"wl":7286,"counts":350},{"wl":7296,"counts":365},{"wl":7300,"counts":345},{"wl":7312,"counts":355},{"wl":7324,"counts":348},{"wl":7336,"counts":358},{"wl":7348,"counts":350},{"wl":7360,"counts":356},{"wl":7372,"counts":348},{"wl":7384,"counts":355},{"wl":7396,"counts":345},{"wl":7408,"counts":352},{"wl":7420,"counts":344},{"wl":7432,"counts":350},{"wl":7444,"counts":342},{"wl":7456,"counts":348},{"wl":7468,"counts":338},{"wl":7480,"counts":345},{"wl":7492,"counts":330},{"wl":7502,"counts":320},{"wl":7512,"counts":260},{"wl":7522,"counts":160},{"wl":7531,"counts":90},{"wl":7540,"counts":140},{"wl":7550,"counts":200},{"wl":7562,"counts":260},{"wl":7574,"counts":300},{"wl":7586,"counts":330},{"wl":7596,"counts":360},{"wl":7602,"counts":380},{"wl":7604,"counts":540},{"wl":7607,"counts":380},{"wl":7618,"counts":375},{"wl":7630,"counts":385},{"wl":7642,"counts":378},{"wl":7654,"counts":390},{"wl":7663,"counts":400},{"wl":7665,"counts":460},{"wl":7668,"counts":385},{"wl":7680,"counts":390},{"wl":7692,"counts":382},{"wl":7704,"counts":392},{"wl":7716,"counts":385},{"wl":7728,"counts":395},{"wl":7740,"counts":388},{"wl":7752,"counts":396},{"wl":7764,"counts":389},{"wl":7776,"counts":398},{"wl":7788,"counts":390},{"wl":7800,"counts":397},{"wl":7812,"counts":388},{"wl":7824,"counts":396},{"wl":7836,"counts":387},{"wl":7848,"counts":394},{"wl":7860,"counts":386},{"wl":7872,"counts":393},{"wl":7884,"counts":385},{"wl":7896,"counts":392},{"wl":7908,"counts":384},{"wl":7920,"counts":390},{"wl":7932,"counts":382},{"wl":7944,"counts":388},{"wl":7956,"counts":384},{"wl":7962,"counts":392},{"wl":7964,"counts":570},{"wl":7967,"counts":388},{"wl":7978,"counts":380},{"wl":7990,"counts":372},{"wl":8002,"counts":380},{"wl":8014,"counts":368},{"wl":8026,"counts":378},{"wl":8038,"counts":366},{"wl":8050,"counts":376},{"wl":8062,"counts":362},{"wl":8074,"counts":374},{"wl":8086,"counts":360},{"wl":8098,"counts":370},{"wl":8110,"counts":345},{"wl":8115,"counts":320},{"wl":8120,"counts":360},{"wl":8132,"counts":368},{"wl":8144,"counts":360},{"wl":8156,"counts":372},{"wl":8168,"counts":364},{"wl":8180,"counts":376},{"wl":8192,"counts":366},{"wl":8204,"counts":378},{"wl":8216,"counts":368},{"wl":8228,"counts":372},{"wl":8236,"counts":330},{"wl":8243,"counts":300},{"wl":8250,"counts":350},{"wl":8262,"counts":372},{"wl":8274,"counts":380},{"wl":8286,"counts":368},{"wl":8298,"counts":385},{"wl":8310,"counts":372},{"wl":8322,"counts":388},{"wl":8334,"counts":374},{"wl":8346,"counts":390},{"wl":8358,"counts":376},{"wl":8370,"counts":392},{"wl":8382,"counts":378},{"wl":8394,"counts":395},{"wl":8406,"counts":380},{"wl":8418,"counts":392},{"wl":8430,"counts":376},{"wl":8442,"counts":390},{"wl":8454,"counts":374},{"wl":8466,"counts":385},{"wl":8478,"counts":368},{"wl":8490,"counts":378},{"wl":8502,"counts":362},{"wl":8514,"counts":372},{"wl":8526,"counts":358},{"wl":8538,"counts":370},{"wl":8550,"counts":356},{"wl":8562,"counts":368},{"wl":8574,"counts":354},{"wl":8586,"counts":366},{"wl":8598,"counts":352},{"wl":8610,"counts":364},{"wl":8622,"counts":350},{"wl":8634,"counts":362},{"wl":8646,"counts":349},{"wl":8658,"counts":360},{"wl":8670,"counts":350},{"wl":8686,"counts":358}]
},
"spacing": 0,
"vconcat": [
{"spacing": 0, "hconcat": [
 {"width": 3.5, "height": 1, "view": {"stroke": null}, "data": {"values": [{"gap": 0}]}, "mark": {"type": "point", "opacity": 0}, "encoding": {}},
 {"title": "M3-38", "width": 232, "height": 159, "data": {"name": "p1"},
  "layer": [
   {"mark": {"type": "line", "clip": true},
    "encoding": {
     "x": {"field": "wl", "type": "quantitative", "scale": {"domain": [3712, 5048], "nice": false, "zero": false}, "axis": {"orient": "bottom", "values": [4000, 4500, 5000], "format": "d", "ticks": false, "tickSize": 0, "labelPadding": 0, "title": "Wavelength (Å)", "titlePadding": 2}},
     "y": {"field": "flux", "type": "quantitative", "scale": {"domain": [-0.1, 15.96], "nice": false, "zero": false}, "axis": {"orient": "left", "values": [0, 5, 10, 15], "labelExpr": "datum.value == 0 ? '0' : datum.value == 5 ? '5×10⁻¹⁴' : datum.value == 10 ? '10⁻¹³' : '1.5×10⁻¹³'", "ticks": false, "tickSize": 0, "labelAngle": 270, "labelAlign": "center", "labelBaseline": "bottom", "labelPadding": 2.5, "title": "Fλ", "titlePadding": 2}}}},
   {"mark": {"type": "line", "opacity": 0, "clip": true},
    "encoding": {
     "x": {"field": "wl", "type": "quantitative", "scale": {"domain": [3712, 5048], "nice": false, "zero": false}, "axis": {"orient": "bottom", "values": [3800,3900,4000,4100,4200,4300,4400,4500,4600,4700,4800,4900,5000], "labels": false, "title": null, "tickSize": {"condition": {"test": "datum.value % 500 == 0", "value": -5}, "value": -2.5}}},
     "y": {"field": "flux", "type": "quantitative", "scale": {"domain": [-0.1, 15.96], "nice": false, "zero": false}, "axis": {"orient": "left", "values": [0,1,2,3,4,5,6,7,8,9,10,11,12,13,14,15], "labels": false, "title": null, "tickSize": {"condition": {"test": "datum.value % 5 == 0", "value": -5}, "value": -2.5}}}}},
   {"mark": {"type": "line", "opacity": 0, "clip": true},
    "encoding": {
     "x": {"field": "wl", "type": "quantitative", "scale": {"domain": [3712, 5048], "nice": false, "zero": false}, "axis": {"orient": "top", "values": [3800,3900,4000,4100,4200,4300,4400,4500,4600,4700,4800,4900,5000], "labels": false, "title": null, "tickSize": {"condition": {"test": "datum.value % 500 == 0", "value": -5}, "value": -2.5}}},
     "y": {"field": "flux", "type": "quantitative", "scale": {"domain": [-0.1, 15.96], "nice": false, "zero": false}, "axis": {"orient": "right", "values": [0,1,2,3,4,5,6,7,8,9,10,11,12,13,14,15], "labels": false, "title": null, "tickSize": {"condition": {"test": "datum.value % 5 == 0", "value": -5}, "value": -2.5}}}}}
  ],
  "resolve": {"axis": {"x": "independent", "y": "independent"}}},
 {"title": "M3-38", "width": 231, "height": 159, "data": {"name": "p2"},
  "layer": [
   {"mark": {"type": "line", "clip": true},
    "encoding": {
     "x": {"field": "wl", "type": "quantitative", "scale": {"domain": [5676, 6393], "nice": false, "zero": false}, "axis": {"orient": "bottom", "values": [5800, 5900, 6000, 6100, 6200], "format": "d", "ticks": false, "tickSize": 0, "labelPadding": 0, "title": "Wavelength (Å)", "titlePadding": 2}},
     "y": {"field": "flux", "type": "quantitative", "scale": {"domain": [-0.15, 23.9], "nice": false, "zero": false}, "axis": {"orient": "left", "values": [0, 5, 10, 15, 20], "labelExpr": "datum.value == 0 ? '0' : datum.value == 5 ? '5×10⁻¹⁶' : datum.value == 10 ? '10⁻¹⁵' : datum.value == 15 ? '1.5×10⁻¹⁵' : '2×10⁻¹⁵'", "ticks": false, "tickSize": 0, "labelAngle": 270, "labelAlign": "center", "labelBaseline": "bottom", "labelPadding": 5, "title": "Fλ", "titlePadding": 0}}}},
   {"mark": {"type": "line", "opacity": 0, "clip": true},
    "encoding": {
     "x": {"field": "wl", "type": "quantitative", "scale": {"domain": [5676, 6393], "nice": false, "zero": false}, "axis": {"orient": "bottom", "values": [5680,5700,5720,5740,5760,5780,5800,5820,5840,5860,5880,5900,5920,5940,5960,5980,6000,6020,6040,6060,6080,6100,6120,6140,6160,6180,6200,6220,6240,6260,6280,6300,6320,6340,6360,6380], "labels": false, "title": null, "tickSize": {"condition": {"test": "datum.value % 100 == 0", "value": -5}, "value": -2.5}}},
     "y": {"field": "flux", "type": "quantitative", "scale": {"domain": [-0.15, 23.9], "nice": false, "zero": false}, "axis": {"orient": "left", "values": [0,1,2,3,4,5,6,7,8,9,10,11,12,13,14,15,16,17,18,19,20,21,22,23], "labels": false, "title": null, "tickSize": {"condition": {"test": "datum.value % 5 == 0", "value": -5}, "value": -2.5}}}}},
   {"mark": {"type": "line", "opacity": 0, "clip": true},
    "encoding": {
     "x": {"field": "wl", "type": "quantitative", "scale": {"domain": [5676, 6393], "nice": false, "zero": false}, "axis": {"orient": "top", "values": [5680,5700,5720,5740,5760,5780,5800,5820,5840,5860,5880,5900,5920,5940,5960,5980,6000,6020,6040,6060,6080,6100,6120,6140,6160,6180,6200,6220,6240,6260,6280,6300,6320,6340,6360,6380], "labels": false, "title": null, "tickSize": {"condition": {"test": "datum.value % 100 == 0", "value": -5}, "value": -2.5}}},
     "y": {"field": "flux", "type": "quantitative", "scale": {"domain": [-0.15, 23.9], "nice": false, "zero": false}, "axis": {"orient": "right", "values": [0,1,2,3,4,5,6,7,8,9,10,11,12,13,14,15,16,17,18,19,20,21,22,23], "labels": false, "title": null, "tickSize": {"condition": {"test": "datum.value % 5 == 0", "value": -5}, "value": -2.5}}}}},
   {"data": {"values": [{"wl": 6198, "flux": 18.2, "label": "[KIV]"}, {"wl": 6150, "flux": 16.4, "label": "[CaV]"}, {"wl": 6145, "flux": 14.1, "label": "[FeVII]"}]},
    "mark": {"type": "text", "align": "center", "baseline": "middle"},
    "encoding": {
     "x": {"field": "wl", "type": "quantitative", "scale": {"domain": [5676, 6393], "nice": false, "zero": false}, "axis": null},
     "y": {"field": "flux", "type": "quantitative", "scale": {"domain": [-0.15, 23.9], "nice": false, "zero": false}, "axis": null},
     "text": {"field": "label"}}},
   {"data": {"values": [{"wl": 6172, "flux": 10.1, "flux2": 12.0}, {"wl": 6193, "flux": 13.6, "flux2": 16.0}]},
    "mark": {"type": "rule", "color": "#222", "strokeWidth": 0.8},
    "encoding": {
     "x": {"field": "wl", "type": "quantitative", "scale": {"domain": [5676, 6393], "nice": false, "zero": false}, "axis": null},
     "y": {"field": "flux", "type": "quantitative", "scale": {"domain": [-0.15, 23.9], "nice": false, "zero": false}, "axis": null},
     "y2": {"field": "flux2"}}}
  ],
  "resolve": {"axis": {"x": "independent", "y": "independent"}}}
]},
{"spacing": 0, "hconcat": [
 {"width": 0.5, "height": 1, "view": {"stroke": null}, "data": {"values": [{"gap": 0}]}, "mark": {"type": "point", "opacity": 0}, "encoding": {}},
 {"title": "PHR1806-2652", "width": 233, "height": 158, "data": {"name": "p3"},
  "layer": [
   {"mark": {"type": "line", "clip": true},
    "encoding": {
     "x": {"field": "wl", "type": "quantitative", "scale": {"domain": [4188, 5049], "nice": false, "zero": false}, "axis": {"orient": "bottom", "values": [4200, 4400, 4600, 4800, 5000], "format": "d", "ticks": false, "tickSize": 0, "labelPadding": 0, "title": "Wavelength (Å)", "titlePadding": 2}},
     "y": {"field": "flux", "type": "quantitative", "scale": {"domain": [0, 21.07], "nice": false, "zero": false}, "axis": {"orient": "left", "values": [0, 5, 10, 15, 20], "labelExpr": "datum.value == 0 ? '0' : datum.value == 5 ? '5×10⁻¹⁶' : datum.value == 10 ? '10⁻¹⁵' : datum.value == 15 ? '1.5×10⁻¹⁵' : '2×10⁻¹⁵'", "ticks": false, "tickSize": 0, "labelAngle": 270, "labelAlign": "center", "labelBaseline": "bottom", "labelPadding": 2.5, "title": "Fλ", "titlePadding": 0}}}},
   {"mark": {"type": "line", "opacity": 0, "clip": true},
    "encoding": {
     "x": {"field": "wl", "type": "quantitative", "scale": {"domain": [4188, 5049], "nice": false, "zero": false}, "axis": {"orient": "bottom", "values": [4200,4250,4300,4350,4400,4450,4500,4550,4600,4650,4700,4750,4800,4850,4900,4950,5000], "labels": false, "title": null, "tickSize": {"condition": {"test": "datum.value % 200 == 0", "value": -5}, "value": -2.5}}},
     "y": {"field": "flux", "type": "quantitative", "scale": {"domain": [0, 21.07], "nice": false, "zero": false}, "axis": {"orient": "left", "values": [0,1,2,3,4,5,6,7,8,9,10,11,12,13,14,15,16,17,18,19,20,21], "labels": false, "title": null, "tickSize": {"condition": {"test": "datum.value % 5 == 0", "value": -5}, "value": -2.5}}}}},
   {"mark": {"type": "line", "opacity": 0, "clip": true},
    "encoding": {
     "x": {"field": "wl", "type": "quantitative", "scale": {"domain": [4188, 5049], "nice": false, "zero": false}, "axis": {"orient": "top", "values": [4200,4250,4300,4350,4400,4450,4500,4550,4600,4650,4700,4750,4800,4850,4900,4950,5000], "labels": false, "title": null, "tickSize": {"condition": {"test": "datum.value % 200 == 0", "value": -5}, "value": -2.5}}},
     "y": {"field": "flux", "type": "quantitative", "scale": {"domain": [0, 21.07], "nice": false, "zero": false}, "axis": {"orient": "right", "values": [0,1,2,3,4,5,6,7,8,9,10,11,12,13,14,15,16,17,18,19,20,21], "labels": false, "title": null, "tickSize": {"condition": {"test": "datum.value % 5 == 0", "value": -5}, "value": -2.5}}}}}
  ],
  "resolve": {"axis": {"x": "independent", "y": "independent"}}},
 {"title": "PHR1806-2652", "width": 232, "height": 158, "data": {"name": "p4"},
  "layer": [
   {"mark": {"type": "line", "clip": true},
    "encoding": {
     "x": {"field": "wl", "type": "quantitative", "scale": {"domain": [5699, 6600], "nice": false, "zero": false}, "axis": {"orient": "bottom", "values": [5800, 6000, 6200, 6400, 6600], "format": "d", "ticks": false, "tickSize": 0, "labelPadding": 0, "title": "Wavelength (Å)", "titlePadding": 2}},
     "y": {"field": "flux", "type": "quantitative", "scale": {"domain": [-1.5, 10], "nice": false, "zero": false}, "axis": {"orient": "left", "values": [0, 5, 10], "labelExpr": "datum.value == 0 ? '0' : datum.value == 5 ? '5×10⁻¹⁶' : '10⁻¹⁵'", "ticks": false, "tickSize": 0, "labelAngle": 270, "labelAlign": "center", "labelBaseline": "bottom", "labelPadding": 3, "title": "Fλ", "titlePadding": -2}}}},
   {"mark": {"type": "line", "opacity": 0, "clip": true},
    "encoding": {
     "x": {"field": "wl", "type": "quantitative", "scale": {"domain": [5699, 6600], "nice": false, "zero": false}, "axis": {"orient": "bottom", "values": [5700,5750,5800,5850,5900,5950,6000,6050,6100,6150,6200,6250,6300,6350,6400,6450,6500,6550,6600], "labels": false, "title": null, "tickSize": {"condition": {"test": "datum.value % 200 == 0", "value": -5}, "value": -2.5}}},
     "y": {"field": "flux", "type": "quantitative", "scale": {"domain": [-1.5, 10], "nice": false, "zero": false}, "axis": {"orient": "left", "values": [-1,0,1,2,3,4,5,6,7,8,9,10], "labels": false, "title": "F", "titleOpacity": 0, "titlePadding": 12.5, "tickSize": {"condition": {"test": "datum.value % 5 == 0", "value": -5}, "value": -2.5}}}}},
   {"mark": {"type": "line", "opacity": 0, "clip": true},
    "encoding": {
     "x": {"field": "wl", "type": "quantitative", "scale": {"domain": [5699, 6600], "nice": false, "zero": false}, "axis": {"orient": "top", "values": [5700,5750,5800,5850,5900,5950,6000,6050,6100,6150,6200,6250,6300,6350,6400,6450,6500,6550,6600], "labels": false, "title": null, "tickSize": {"condition": {"test": "datum.value % 200 == 0", "value": -5}, "value": -2.5}}},
     "y": {"field": "flux", "type": "quantitative", "scale": {"domain": [-1.5, 10], "nice": false, "zero": false}, "axis": {"orient": "right", "values": [-1,0,1,2,3,4,5,6,7,8,9,10], "labels": false, "title": null, "tickSize": {"condition": {"test": "datum.value % 5 == 0", "value": -5}, "value": -2.5}}}}},
   {"data": {"values": [{"wl": 5755, "flux": 8.1, "label": "[FeVII]"}, {"wl": 6084, "flux": 6.57, "label": "[CaV]"}, {"wl": 6084, "flux": 5.51, "label": "[FeVII]"}]},
    "mark": {"type": "text", "align": "center", "baseline": "middle"},
    "encoding": {
     "x": {"field": "wl", "type": "quantitative", "scale": {"domain": [5699, 6600], "nice": false, "zero": false}, "axis": null},
     "y": {"field": "flux", "type": "quantitative", "scale": {"domain": [-1.5, 10], "nice": false, "zero": false}, "axis": null},
     "text": {"field": "label"}}},
   {"data": {"values": [{"wl": 5761, "wl2": 5719, "flux": 7.49, "flux2": 6.45}, {"wl": 6086, "wl2": 6086, "flux": 3.94, "flux2": 4.95}]},
    "mark": {"type": "rule", "color": "#222", "strokeWidth": 0.8},
    "encoding": {
     "x": {"field": "wl", "type": "quantitative", "scale": {"domain": [5699, 6600], "nice": false, "zero": false}, "axis": null},
     "x2": {"field": "wl2"},
     "y": {"field": "flux", "type": "quantitative", "scale": {"domain": [-1.5, 10], "nice": false, "zero": false}, "axis": null},
     "y2": {"field": "flux2"}}}
  ],
  "resolve": {"axis": {"x": "independent", "y": "independent"}}}
]},
{"spacing": 0, "hconcat": [
 {"width": 1, "height": 1, "view": {"stroke": null}, "data": {"values": [{"gap": 0}]}, "mark": {"type": "point", "opacity": 0}, "encoding": {}},
 {"title": "PHR1806-2652", "width": 239, "height": 158, "data": {"name": "p5"},
  "layer": [
   {"mark": {"type": "line", "clip": true},
    "encoding": {
     "x": {"field": "wl", "type": "quantitative", "scale": {"domain": [3767, 6591], "nice": false, "zero": false}, "axis": {"orient": "bottom", "values": [4000, 4500, 5000, 5500, 6000, 6500], "format": "d", "ticks": false, "tickSize": 0, "labelPadding": 0, "title": "Wavelength (Å)", "titlePadding": 2}},
     "y": {"field": "counts", "type": "quantitative", "scale": {"domain": [-52, 2009], "nice": false, "zero": false}, "axis": {"orient": "left", "values": [0, 500, 1000, 1500, 2000], "format": "d", "ticks": false, "tickSize": 0, "labelAngle": 270, "labelAlign": "center", "labelBaseline": "bottom", "labelPadding": 1, "title": "Counts", "titlePadding": -1}}}},
   {"mark": {"type": "line", "opacity": 0, "clip": true},
    "encoding": {
     "x": {"field": "wl", "type": "quantitative", "scale": {"domain": [3767, 6591], "nice": false, "zero": false}, "axis": {"orient": "bottom", "values": [3800,3900,4000,4100,4200,4300,4400,4500,4600,4700,4800,4900,5000,5100,5200,5300,5400,5500,5600,5700,5800,5900,6000,6100,6200,6300,6400,6500], "labels": false, "title": null, "tickSize": {"condition": {"test": "datum.value % 500 == 0", "value": -5}, "value": -2.5}}},
     "y": {"field": "counts", "type": "quantitative", "scale": {"domain": [-52, 2009], "nice": false, "zero": false}, "axis": {"orient": "left", "values": [0,100,200,300,400,500,600,700,800,900,1000,1100,1200,1300,1400,1500,1600,1700,1800,1900,2000], "labels": false, "title": null, "tickSize": {"condition": {"test": "datum.value % 500 == 0", "value": -5}, "value": -2.5}}}}},
   {"mark": {"type": "line", "opacity": 0, "clip": true},
    "encoding": {
     "x": {"field": "wl", "type": "quantitative", "scale": {"domain": [3767, 6591], "nice": false, "zero": false}, "axis": {"orient": "top", "values": [3800,3900,4000,4100,4200,4300,4400,4500,4600,4700,4800,4900,5000,5100,5200,5300,5400,5500,5600,5700,5800,5900,6000,6100,6200,6300,6400,6500], "labels": false, "title": null, "tickSize": {"condition": {"test": "datum.value % 500 == 0", "value": -5}, "value": -2.5}}},
     "y": {"field": "counts", "type": "quantitative", "scale": {"domain": [-52, 2009], "nice": false, "zero": false}, "axis": {"orient": "right", "values": [0,100,200,300,400,500,600,700,800,900,1000,1100,1200,1300,1400,1500,1600,1700,1800,1900,2000], "labels": false, "title": null, "tickSize": {"condition": {"test": "datum.value % 500 == 0", "value": -5}, "value": -2.5}}}}}
  ],
  "resolve": {"axis": {"x": "independent", "y": "independent"}}},
 {"title": "PHR1806-2652", "width": 232, "height": 158, "data": {"name": "p6"},
  "layer": [
   {"mark": {"type": "line", "clip": true},
    "encoding": {
     "x": {"field": "wl", "type": "quantitative", "scale": {"domain": [6452, 8686], "nice": false, "zero": false}, "axis": {"orient": "bottom", "values": [6500, 7000, 7500, 8000, 8500], "format": "d", "ticks": false, "tickSize": 0, "labelPadding": 0, "title": "Wavelength (Å)", "titlePadding": 2}},
     "y": {"field": "counts", "type": "quantitative", "scale": {"domain": [-5, 3005], "nice": false, "zero": false}, "axis": {"orient": "left", "values": [0, 1000, 2000, 3000], "format": "d", "ticks": false, "tickSize": 0, "labelAngle": 270, "labelAlign": "center", "labelBaseline": "bottom", "labelPadding": 1, "title": "Counts", "titlePadding": -1}}}},
   {"mark": {"type": "line", "opacity": 0, "clip": true},
    "encoding": {
     "x": {"field": "wl", "type": "quantitative", "scale": {"domain": [6452, 8686], "nice": false, "zero": false}, "axis": {"orient": "bottom", "values": [6500,6600,6700,6800,6900,7000,7100,7200,7300,7400,7500,7600,7700,7800,7900,8000,8100,8200,8300,8400,8500,8600], "labels": false, "title": null, "tickSize": {"condition": {"test": "datum.value % 500 == 0", "value": -5}, "value": -2.5}}},
     "y": {"field": "counts", "type": "quantitative", "scale": {"domain": [-5, 3005], "nice": false, "zero": false}, "axis": {"orient": "left", "values": [0,200,400,600,800,1000,1200,1400,1600,1800,2000,2200,2400,2600,2800,3000], "labels": false, "title": "F", "titleOpacity": 0, "titlePadding": 19.5, "tickSize": {"condition": {"test": "datum.value % 1000 == 0", "value": -5}, "value": -2.5}}}}},
   {"mark": {"type": "line", "opacity": 0, "clip": true},
    "encoding": {
     "x": {"field": "wl", "type": "quantitative", "scale": {"domain": [6452, 8686], "nice": false, "zero": false}, "axis": {"orient": "top", "values": [6500,6600,6700,6800,6900,7000,7100,7200,7300,7400,7500,7600,7700,7800,7900,8000,8100,8200,8300,8400,8500,8600], "labels": false, "title": null, "tickSize": {"condition": {"test": "datum.value % 500 == 0", "value": -5}, "value": -2.5}}},
     "y": {"field": "counts", "type": "quantitative", "scale": {"domain": [-5, 3005], "nice": false, "zero": false}, "axis": {"orient": "right", "values": [0,200,400,600,800,1000,1200,1400,1600,1800,2000,2200,2400,2600,2800,3000], "labels": false, "title": null, "tickSize": {"condition": {"test": "datum.value % 1000 == 0", "value": -5}, "value": -2.5}}}}}
  ],
  "resolve": {"axis": {"x": "independent", "y": "independent"}}}
]}
]
}
